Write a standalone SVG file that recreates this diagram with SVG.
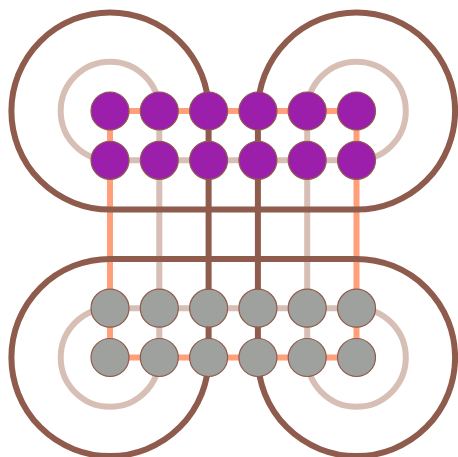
<svg xmlns="http://www.w3.org/2000/svg" width="458" height="457" viewBox="0 0 458 457">
<style>
.e{fill:none;stroke-width:6}
.o{stroke:#ffa07a}
.l{stroke:#d8bfb6}
.d{stroke:#8e5b4c}
.n circle{r:19;stroke:#8e5b4c;stroke-width:1.2}
.p circle{fill:#9c1fab}
.g circle{fill:#9fa19f}
</style>
<rect width="458" height="457" fill="#ffffff"/>
<g id="connectors">
<path class="e o" d="M110,111H356.5M110,357.5H356.5M110,111V357.5M356.5,111V357.5"/>
<path class="e l" d="M159.3,111A49.3,49.3 0 1 0 110,160.3M307.2,111A49.3,49.3 0 1 1 356.5,160.3M110,308.2A49.3,49.3 0 1 0 159.3,357.5M356.5,308.2A49.3,49.3 0 1 1 307.2,357.5M110,160.3H356.5M110,308.2H356.5M159.3,111V357.5M307.2,111V357.5"/>
<path class="e d" d="M208.6,111A98.6,98.6 0 1 0 110,209.6H356.5A98.6,98.6 0 1 0 257.9,111M208.6,357.5A98.6,98.6 0 1 1 110,258.9H356.5A98.6,98.6 0 1 1 257.9,357.5M208.6,111V357.5M257.9,111V357.5"/>
</g>
<g class="n p">
<g id="a1"><circle cx="110" cy="111" r="19"/></g>
<g id="a2"><circle cx="159.3" cy="111" r="19"/></g>
<g id="a3"><circle cx="208.6" cy="111" r="19"/></g>
<g id="a4"><circle cx="257.9" cy="111" r="19"/></g>
<g id="a5"><circle cx="307.2" cy="111" r="19"/></g>
<g id="a6"><circle cx="356.5" cy="111" r="19"/></g>
<g id="b1"><circle cx="110" cy="160.3" r="19"/></g>
<g id="b2"><circle cx="159.3" cy="160.3" r="19"/></g>
<g id="b3"><circle cx="208.6" cy="160.3" r="19"/></g>
<g id="b4"><circle cx="257.9" cy="160.3" r="19"/></g>
<g id="b5"><circle cx="307.2" cy="160.3" r="19"/></g>
<g id="b6"><circle cx="356.5" cy="160.3" r="19"/></g>
</g>
<g class="n g">
<g id="c1"><circle cx="110" cy="308.2" r="19"/></g>
<g id="c2"><circle cx="159.3" cy="308.2" r="19"/></g>
<g id="c3"><circle cx="208.6" cy="308.2" r="19"/></g>
<g id="c4"><circle cx="257.9" cy="308.2" r="19"/></g>
<g id="c5"><circle cx="307.2" cy="308.2" r="19"/></g>
<g id="c6"><circle cx="356.5" cy="308.2" r="19"/></g>
<g id="d1"><circle cx="110" cy="357.5" r="19"/></g>
<g id="d2"><circle cx="159.3" cy="357.5" r="19"/></g>
<g id="d3"><circle cx="208.6" cy="357.5" r="19"/></g>
<g id="d4"><circle cx="257.9" cy="357.5" r="19"/></g>
<g id="d5"><circle cx="307.2" cy="357.5" r="19"/></g>
<g id="d6"><circle cx="356.5" cy="357.5" r="19"/></g>
</g>
</svg>
